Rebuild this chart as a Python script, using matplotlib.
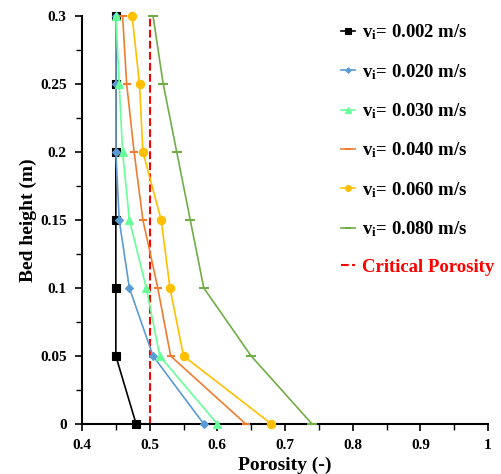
import matplotlib
matplotlib.use('Agg')
import matplotlib.pyplot as plt
from matplotlib.ticker import MultipleLocator, FuncFormatter

plt.rcParams['font.family'] = 'Liberation Serif'
plt.rcParams['font.weight'] = 'bold'
plt.rcParams['mathtext.fontset'] = 'custom'
plt.rcParams['mathtext.bf'] = 'Liberation Serif:bold'
plt.rcParams['mathtext.rm'] = 'Liberation Serif:bold'
plt.rcParams['mathtext.it'] = 'Liberation Serif:bold'

height = [0, 0.05, 0.1, 0.15, 0.2, 0.25, 0.3]
por_002 = [0.48, 0.45, 0.45, 0.45, 0.45, 0.45, 0.45]
por_020 = [0.58, 0.505, 0.47, 0.455, 0.45, 0.45, 0.45]
por_030 = [0.60, 0.515, 0.495, 0.47, 0.46, 0.455, 0.45]
por_040 = [0.642, 0.531, 0.512, 0.49, 0.477, 0.466, 0.46]
por_060 = [0.68, 0.55, 0.53, 0.517, 0.49, 0.485, 0.474]
por_080 = [0.74, 0.65, 0.58, 0.56, 0.54, 0.52, 0.505]
critical = 0.5
labels = ['0.002', '0.020', '0.030', '0.040', '0.060', '0.080']

fig = plt.figure(figsize=(5.02, 4.74), dpi=100)
ax = fig.add_axes([82/502, 50/474, 406/502, 408/474])

styles = [
    (por_002, 'black', 's', 6),
    (por_020, '#5b9bd5', 'D', 4),
    (por_030, '#66ff99', '^', 6),
    (por_040, '#ed7d31', '_', 6),
    (por_060, '#ffc000', 'o', 6),
    (por_080, '#70ad47', '_', 7),
]
for (vals, col, mk, ms), lab in zip(styles, labels):
    ax.plot(vals, height, color=col, marker=mk, markersize=ms, lw=1.2,
            markeredgewidth=1.5 if mk == '_' else 0.8,
            label=r'v$_{\mathbf{i}}$= ' + lab + ' m/s', clip_on=False, zorder=3)

ax.plot([critical, critical], [height[0], height[-1]], color='red', ls='--', lw=1.5,
        label='Critical Porosity', zorder=2)

ax.set_xlim(0.4, 1.0)
ax.set_ylim(0, 0.3)
ax.xaxis.set_major_locator(MultipleLocator(0.1))
ax.xaxis.set_minor_locator(MultipleLocator(0.05))
ax.yaxis.set_major_locator(MultipleLocator(0.05))
ax.yaxis.set_minor_locator(MultipleLocator(0.025))
ax.spines['top'].set_visible(False)
ax.spines['right'].set_visible(False)
ax.spines['left'].set_linewidth(1.5)
ax.spines['bottom'].set_linewidth(1.5)
ax.tick_params(axis='both', which='major', labelsize=11, width=1.2, length=5, direction='out', pad=6)
ax.tick_params(axis='both', which='minor', width=1.0, length=4, direction='out')
fmt = FuncFormatter(lambda v, p: '%g' % round(v, 2))
ax.xaxis.set_major_formatter(fmt)
ax.yaxis.set_major_formatter(fmt)
for t in ax.get_xticklabels() + ax.get_yticklabels():
    t.set_fontweight('bold')

ax.set_xlabel('Porosity (-)', fontsize=14, fontweight='bold', labelpad=3)
ax.set_ylabel('Bed height (m)', fontsize=14, fontweight='bold', labelpad=2)

leg = fig.legend(loc='upper left', bbox_to_anchor=(334/502, 1 - 15/474), frameon=False,
                 fontsize=13.5, labelspacing=1.05, handlelength=0.7, handletextpad=0.4,
                 markerscale=0.7, borderaxespad=0)
for txt in leg.get_texts():
    txt.set_fontweight('bold')
leg.get_texts()[-1].set_color('red')

plt.savefig('out.png', dpi=100)
